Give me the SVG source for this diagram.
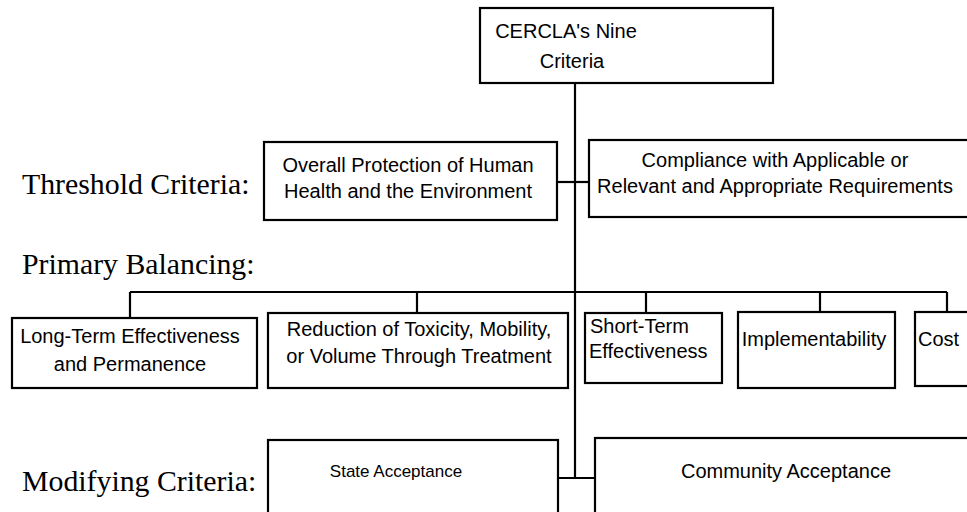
<svg xmlns="http://www.w3.org/2000/svg" width="967" height="512" viewBox="0 0 967 512">
<style>
.box{fill:#fff;stroke:#000;stroke-width:2.2}
.t{font-family:"Liberation Sans",Arial,sans-serif;font-size:20px;fill:#000;text-anchor:middle}
.lab{font-family:"Liberation Serif","Times New Roman",serif;font-size:29.8px;fill:#000}
.c{fill:none;stroke:#000;stroke-width:2.2}
</style>
<rect width="967" height="512" fill="#fff"/>
<g id="labels">
<text class="lab" x="22" y="194">Threshold Criteria:</text>
<text class="lab" x="22" y="274">Primary Balancing:</text>
<text class="lab" x="22" y="491">Modifying Criteria:</text>
</g>
<g id="connectors">
<path class="c" d="M575 83V478"/>
<path class="c" d="M557 182H589"/>
<path class="c" d="M130 292H947M130 292V318M417 292V313M646 292V313M820 292V312M947 292V312"/>
<path class="c" d="M558 478H595"/>
</g>
<g id="root">
<rect class="box" x="480" y="8" width="293" height="75"/>
<text class="t" x="566" y="38">CERCLA's Nine</text>
<text class="t" x="572" y="68">Criteria</text>
</g>
<g id="overall">
<rect class="box" x="264" y="142" width="293" height="78"/>
<text class="t" x="408" y="172">Overall Protection of Human</text>
<text class="t" x="408" y="198">Health and the Environment</text>
</g>
<g id="compliance">
<rect class="box" x="589" y="140" width="390" height="77"/>
<text class="t" x="775" y="167">Compliance with Applicable or</text>
<text class="t" x="775" y="193">Relevant and Appropriate Requirements</text>
</g>
<g id="longterm">
<rect class="box" x="12" y="318" width="245" height="70"/>
<text class="t" x="130" y="343">Long-Term Effectiveness</text>
<text class="t" x="130" y="371">and Permanence</text>
</g>
<g id="reduction">
<rect class="box" x="268" y="313" width="300" height="75"/>
<text class="t" x="419" y="336">Reduction of Toxicity, Mobility,</text>
<text class="t" x="419" y="363">or Volume Through Treatment</text>
</g>
<g id="shortterm">
<rect class="box" x="585" y="313" width="137" height="70"/>
<text class="t" x="590" y="333" style="text-anchor:start">Short-Term</text>
<text class="t" x="589" y="358" style="text-anchor:start">Effectiveness</text>
</g>
<g id="implementability">
<rect class="box" x="738" y="312" width="157" height="76"/>
<text class="t" x="814" y="346">Implementability</text>
</g>
<g id="cost">
<rect class="box" x="915" y="312" width="70" height="74"/>
<text class="t" x="918" y="346" style="text-anchor:start">Cost</text>
</g>
<g id="state">
<rect class="box" x="268" y="440" width="290" height="90"/>
<text class="t" x="396" y="477" style="font-size:17px">State Acceptance</text>
</g>
<g id="community">
<rect class="box" x="595" y="438" width="390" height="90"/>
<text class="t" x="786" y="478">Community Acceptance</text>
</g>
</svg>
